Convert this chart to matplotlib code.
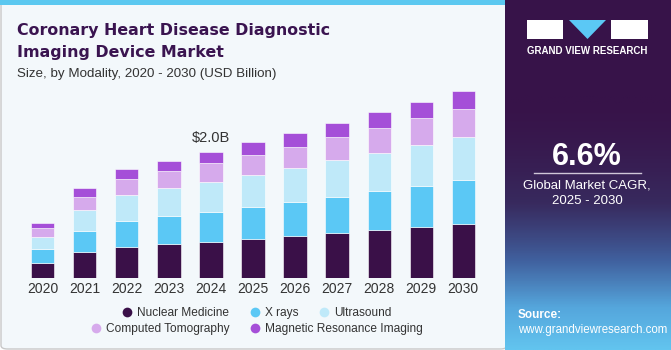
import numpy as np
import matplotlib.pyplot as plt
from matplotlib.patches import Rectangle, Polygon, FancyBboxPatch
from matplotlib.lines import Line2D
from matplotlib.colors import LinearSegmentedColormap

# data (USD Billion)
years = ["2020", "2021", "2022", "2023", "2024", "2025", "2026", "2027", "2028", "2029", "2030"]
nuclear = [0.246, 0.411, 0.499, 0.542, 0.578, 0.621, 0.673, 0.716, 0.763, 0.815, 0.863]
xrays = [0.212, 0.336, 0.406, 0.442, 0.474, 0.510, 0.532, 0.573, 0.616, 0.643, 0.690]
ultrasound = [0.199, 0.332, 0.411, 0.438, 0.474, 0.501, 0.542, 0.580, 0.605, 0.648, 0.679]
ct = [0.133, 0.210, 0.253, 0.273, 0.291, 0.316, 0.332, 0.359, 0.390, 0.422, 0.447]
mri = [0.079, 0.133, 0.153, 0.163, 0.183, 0.201, 0.221, 0.231, 0.248, 0.258, 0.280]
series_names = ["Nuclear Medicine", "X rays", "Ultrasound", "Computed Tomography", "Magnetic Resonance Imaging"]
colors = ["#3a1048", "#5bc8f5", "#bfe9f9", "#d6aaec", "#a54fd8"]

W, H = 671, 350
fig = plt.figure(figsize=(W / 100, H / 100), dpi=100)
fig.patch.set_facecolor("white")
plt.rcParams["font.family"] = ["Liberation Sans", "DejaVu Sans"]

def fx(px):
    return px / W

def fy(py):
    return 1 - py / H

# left panel background + top strip
fig.patches.append(FancyBboxPatch((fx(1), fy(349)), fx(506), 348 / H, boxstyle="round,pad=0,rounding_size=0.01",
                                  transform=fig.transFigure, facecolor="#f3f8fb", edgecolor="#c8c8c8", lw=1, zorder=-3))
fig.patches.append(Rectangle((0, fy(5)), fx(508), 5 / H, transform=fig.transFigure,
                             facecolor="#5bc8f0", edgecolor="none", zorder=-2))

# right panel
fig.patches.append(Rectangle((fx(505), 0), fx(166), 1, transform=fig.transFigure,
                             facecolor="#371349", edgecolor="none", zorder=-1))
grad = fig.add_axes([fx(505), 0, fx(166), 1 - fy(255)])
grad.set_zorder(0.5)
g = np.linspace(0, 1, 100)[:, None]
cmap = LinearSegmentedColormap.from_list("g", ["#371349", "#382a5e", "#40609e", "#55a6dc", "#62c4ef"])
grad.imshow(g ** 1.6, aspect="auto", cmap=cmap, extent=[0, 1, 0, 1], origin="upper")
grad.axis("off")

# logo
fig.patches.append(Rectangle((fx(527), fy(39)), fx(36), 19 / H, transform=fig.transFigure, facecolor="white", zorder=3))
fig.patches.append(Polygon([(fx(569), fy(20)), (fx(606), fy(20)), (fx(587.5), fy(39))], closed=True,
                           transform=fig.transFigure, facecolor="#5bc8f5", zorder=3))
fig.patches.append(Rectangle((fx(611), fy(39)), fx(37), 19 / H, transform=fig.transFigure, facecolor="white", zorder=3))
fig.text(fx(587.5), fy(50.5), "GRAND VIEW RESEARCH", color="white", fontsize=7, fontweight="bold",
         ha="center", va="center")

fig.text(fx(587), fy(157), "6.6%", color="white", fontsize=22, fontweight="bold", ha="center", va="center")
fig.add_artist(Line2D([fx(534), fx(641)], [fy(173), fy(173)], color="#cfc6d8", lw=1))
fig.text(fx(587), fy(185), "Global Market CAGR,", color="white", fontsize=9.5, ha="center", va="center")
fig.text(fx(587), fy(201), "2025 - 2030", color="white", fontsize=9.5, ha="center", va="center")
fig.text(fx(518), fy(315), "Source:", color="white", fontsize=8.5, fontweight="bold", ha="left", va="center", zorder=5)
fig.text(fx(518), fy(330), "www.grandviewresearch.com", color="white", fontsize=8.3, ha="left", va="center", zorder=5)

# titles
fig.text(fx(17), fy(35), "Coronary Heart Disease Diagnostic", color="#3a1450", fontsize=11.4,
         fontweight="heavy", family="DejaVu Sans", ha="left", va="baseline")
fig.text(fx(17), fy(57), "Imaging Device Market", color="#3a1450", fontsize=11.4,
         fontweight="heavy", family="DejaVu Sans", ha="left", va="baseline")
fig.text(fx(17), fy(77), "Size, by Modality, 2020 - 2030 (USD Billion)", color="#333333", fontsize=9.6,
         ha="left", va="baseline")

# bar chart
ppu = 42.06
x0 = 42.7
left_px, right_px = 15, 490
ax = fig.add_axes([fx(left_px), fy(278.3), fx(right_px - left_px), (278.3 - 80) / H])
ax.set_facecolor("none")
x = np.arange(len(years))
bottom = np.zeros(len(years))
for vals, c, name in zip([nuclear, xrays, ultrasound, ct, mri], colors, series_names):
    ax.bar(x, vals, width=0.555, bottom=bottom, color=c, edgecolor="#ffffff", linewidth=0.4, label=name)
    bottom += np.array(vals)

ax.set_xlim((left_px - x0) / ppu, (right_px - x0) / ppu)
ax.set_ylim(0, (278.3 - 80) / 63.3)
ax.set_xticks(x)
ax.set_xticklabels(years, fontsize=10, color="#333333")
ax.tick_params(axis="x", length=0, pad=3)
ax.set_yticks([])
for s in ax.spines.values():
    s.set_visible(False)

ax.text(4, bottom[4] + 0.1, "$2.0B", ha="center", va="bottom", fontsize=10.5, color="#333333")

# legend in two centred rows
handles = [Line2D([], [], marker="o", linestyle="none", markersize=7, markerfacecolor=c, markeredgecolor="none")
           for c in colors]
lprops = {"size": 8.6}
leg1 = fig.legend(handles[:3], series_names[:3], loc="center", bbox_to_anchor=(fx(255), fy(313)), ncol=3,
                  frameon=False, prop=lprops, handletextpad=0.1, columnspacing=1.4, labelcolor="#333333",
                  handlelength=1.5)
leg2 = fig.legend(handles[3:], series_names[3:], loc="center", bbox_to_anchor=(fx(255), fy(329)), ncol=2,
                  frameon=False, prop=lprops, handletextpad=0.1, columnspacing=1.4, labelcolor="#333333",
                  handlelength=1.5)

fig.savefig("out.png", dpi=100)
